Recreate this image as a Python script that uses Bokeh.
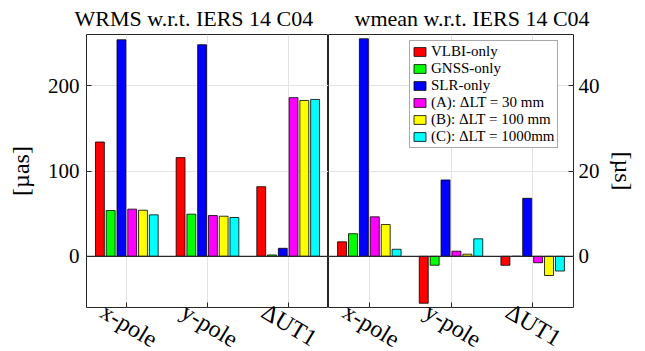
import math
from bokeh.plotting import figure
from bokeh.models import FixedTicker, Span, Range1d, Legend, LegendItem
from bokeh.layouts import row
from bokeh.embed import file_html
from bokeh.resources import INLINE

categories = ["x-pole", "y-pole", "ΔUT1"]
cat_pos = [1, 2, 3]
series = ["VLBI-only", "GNSS-only", "SLR-only",
          "(A): ΔLT = 30 mm", "(B): ΔLT = 100 mm", "(C): ΔLT = 1000mm"]
colors = ["#ff0000", "#00ff00", "#0000ff", "#ff00ff", "#ffff00", "#00ffff"]

# WRMS w.r.t. IERS 14 C04 [µas]
wrms_vlbi = [134.0, 115.7, 81.6]
wrms_gnss = [53.7, 49.4, 1.6]
wrms_slr = [253.8, 248.0, 9.4]
wrms_a = [55.3, 47.8, 186.0]
wrms_b = [54.0, 47.0, 182.7]
wrms_c = [48.6, 45.5, 183.9]

# wmean w.r.t. IERS 14 C04 [µs]
wmean_vlbi = [3.4, -11.0, -2.1]
wmean_gnss = [5.3, -2.1, 0.0]
wmean_slr = [51.0, 17.9, 13.6]
wmean_a = [9.25, 1.2, -1.5]
wmean_b = [7.45, 0.5, -4.5]
wmean_c = [1.65, 4.1, -3.45]

left_ticks = [0, 100, 200]
right_ticks = [0, 20, 40]

wrms = [wrms_vlbi, wrms_gnss, wrms_slr, wrms_a, wrms_b, wrms_c]
wmean = [wmean_vlbi, wmean_gnss, wmean_slr, wmean_a, wmean_b, wmean_c]

FONT = "Liberation Serif"
DARK = "#262626"
GRID = "#e3e3e3"
step = 0.1335
bar_w = 0.11
label_shift = 0.30


def style(p, yticks):
    p.outline_line_color = DARK
    p.outline_line_width = 1
    p.background_fill_color = "white"
    p.border_fill_color = "white"
    p.xgrid.ticker = FixedTicker(ticks=cat_pos)
    p.xgrid.grid_line_color = GRID
    p.ygrid.grid_line_color = GRID
    label_ticks = [c - label_shift for c in cat_pos]
    for ax in p.xaxis:
        ax.ticker = FixedTicker(ticks=label_ticks, minor_ticks=cat_pos)
        ax.major_label_overrides = {t: n for t, n in zip(label_ticks, categories)}
        ax.major_label_orientation = -31 * math.pi / 180
        ax.major_label_text_font = FONT
        ax.major_label_text_font_size = "24px"
        ax.major_label_text_color = "black"
        ax.major_label_standoff = 2
        ax.axis_line_color = None
        ax.major_tick_line_color = None
        ax.major_tick_in = 0
        ax.major_tick_out = 0
        ax.minor_tick_in = 5
        ax.minor_tick_out = 0
        ax.minor_tick_line_color = DARK
    for ax in p.yaxis:
        ax.ticker = FixedTicker(ticks=yticks)
        ax.axis_line_color = None
        ax.major_tick_in = 5
        ax.major_tick_out = 0
        ax.major_tick_line_color = DARK
        ax.minor_tick_line_color = None
        ax.major_label_text_font = FONT
        ax.major_label_text_font_size = "21px"
        ax.major_label_text_color = "black"
        ax.axis_label_text_font = FONT
        ax.axis_label_text_font_size = "24px"
        ax.axis_label_text_font_style = "normal"
        ax.axis_label_text_color = "black"
    p.title.text_font = FONT
    p.title.text_font_size = "22px"
    p.title.text_font_style = "normal"
    p.title.text_color = "black"
    p.title.align = "left"
    p.title.standoff = 7
    p.add_layout(Span(location=0, dimension="width", line_color=DARK, line_width=1.2))


left = figure(frame_width=242, frame_height=273, min_border_left=86, min_border_right=0,
              min_border_top=0, min_border_bottom=37,
              x_range=Range1d(0.5, 3.5), y_range=Range1d(-60, 260),
              output_backend="svg", toolbar_location=None,
              title="WRMS w.r.t. IERS 14 C04")
left.yaxis.axis_label = "[µas]"
left.yaxis.major_label_standoff = 7
left.yaxis.axis_label_standoff = 11
style(left, left_ticks)
left.title.offset = -12

right = figure(frame_width=245, frame_height=273, min_border_left=0, min_border_right=48,
               min_border_top=0, min_border_bottom=37,
               x_range=Range1d(0.5, 3.5), y_range=Range1d(-12, 52),
               y_axis_location="right",
               output_backend="svg", toolbar_location=None,
               title="wmean w.r.t. IERS 14 C04")
right.yaxis.axis_label = "[µs]"
right.yaxis.major_label_standoff = 5
right.yaxis.axis_label_standoff = 7
style(right, right_ticks)
right.title.offset = 26

items = []
for i, (name, col) in enumerate(zip(series, colors)):
    off = (i - 2.5) * step
    xs = [c + off for c in cat_pos]
    left.vbar(x=xs, top=wrms[i], bottom=0, width=bar_w, fill_color=col,
              line_color="black", line_width=0.8)
    r = right.vbar(x=xs, top=wmean[i], bottom=0, width=bar_w, fill_color=col,
                   line_color="black", line_width=0.8)
    items.append(LegendItem(label=name, renderers=[r]))

legend = Legend(items=items, location=(81, 159), padding=2, spacing=0,
                label_height=15, glyph_height=11, glyph_width=15, label_standoff=4,
                margin=0, border_line_color="#555555", border_line_width=1,
                background_fill_alpha=1, label_text_font=FONT,
                label_text_font_size="15px", label_text_line_height=1.1,
                label_text_color="black")
right.add_layout(legend, "center")

layout = row(left, right, spacing=0)
open("out.html", "w").write(file_html(layout, INLINE))
